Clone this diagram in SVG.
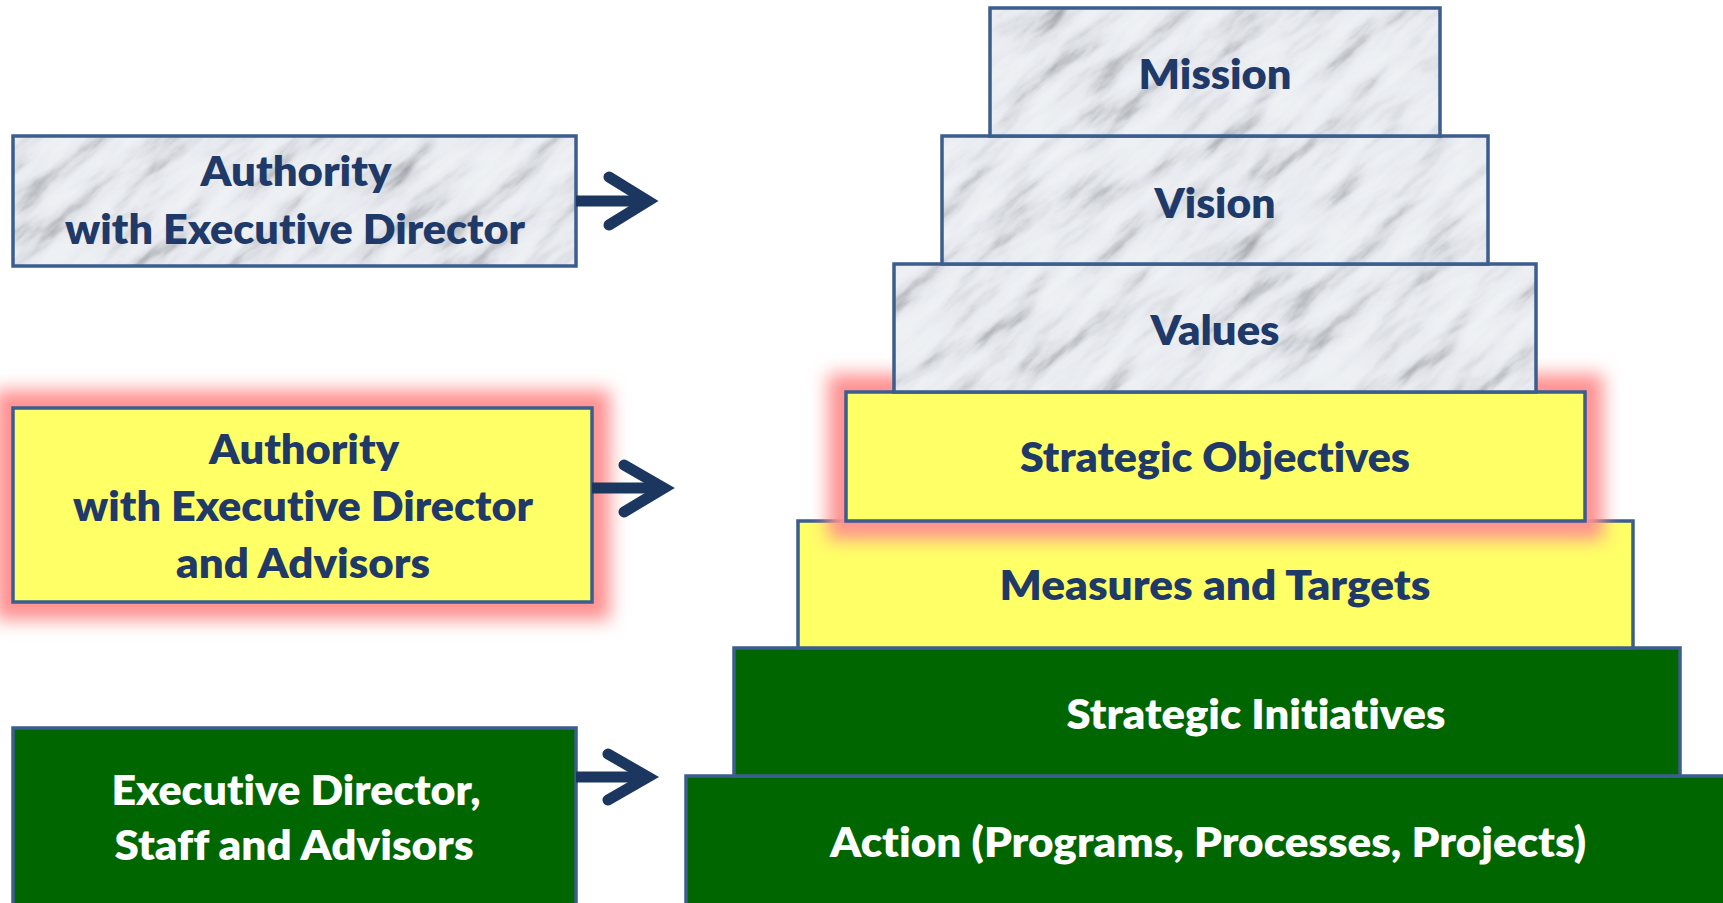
<svg xmlns="http://www.w3.org/2000/svg" width="1723" height="903" viewBox="0 0 1723 903">
<defs>
<filter id="mf" x="0" y="0" width="1" height="1" color-interpolation-filters="sRGB">
<feTurbulence type="fractalNoise" baseFrequency="0.012 0.05" numOctaves="5" seed="11" stitchTiles="stitch"/>
<feColorMatrix type="matrix" values="1 0 0 0 0  1 0 0 0 0  1 0 0 0 0  0 0 0 0 1"/>
<feComponentTransfer>
<feFuncR type="table" tableValues="0.60 0.74 0.86 0.91 0.93 0.94 0.95"/>
<feFuncG type="table" tableValues="0.61 0.75 0.87 0.92 0.94 0.95 0.96"/>
<feFuncB type="table" tableValues="0.63 0.77 0.89 0.94 0.95 0.96 0.97"/>
</feComponentTransfer>
</filter>
<pattern id="marble" patternUnits="userSpaceOnUse" width="300" height="300" patternTransform="rotate(-40)">
<rect width="300" height="300" filter="url(#mf)"/>
</pattern>
<filter id="glow" x="-20%" y="-40%" width="140%" height="180%">
<feGaussianBlur stdDeviation="9"/>
</filter>
</defs>
<style>
.box{stroke:#3B5E8E;stroke-width:3.5}
.m{fill:url(#marble)}
.y{fill:#FFFF66}
.g{fill:#006600}
.gl{fill:#FF9090;stroke:#FF9090;stroke-width:36}
text{font-family:Lato,"Open Sans","Liberation Sans",sans-serif;font-weight:800;font-size:42px;text-anchor:middle;font-variant-ligatures:none;font-feature-settings:"liga" 0}
.dk{fill:#1F3A68}
.wt{fill:#FFFFFF}
.arr{fill:none;stroke:#1B365F;stroke-width:11}
</style>

<g id="node-action">
<rect class="box g" x="686" y="776" width="1050" height="140"/>
<text class="wt" x="1208" y="857" textLength="756" lengthAdjust="spacingAndGlyphs">Action (Programs, Processes, Projects)</text>
</g>
<g id="node-initiatives">
<rect class="box g" x="734" y="648" width="946" height="128"/>
<text class="wt" x="1256" y="729" textLength="379" lengthAdjust="spacingAndGlyphs">Strategic Initiatives</text>
</g>
<g id="node-measures">
<rect class="box y" x="798" y="521" width="835" height="127"/>
<text class="dk" x="1215" y="600" textLength="431" lengthAdjust="spacingAndGlyphs">Measures and Targets</text>
</g>
<g id="node-objectives">
<rect class="gl" x="846" y="392" width="739" height="129" filter="url(#glow)"/>
<rect class="box y" x="846" y="392" width="739" height="129"/>
<text class="dk" x="1215" y="472" textLength="390" lengthAdjust="spacingAndGlyphs">Strategic Objectives</text>
</g>
<g id="node-values">
<rect class="box m" x="894" y="264" width="642" height="128"/>
<text class="dk" x="1215" y="345" textLength="129" lengthAdjust="spacingAndGlyphs">Values</text>
</g>
<g id="node-vision">
<rect class="box m" x="942" y="136" width="546" height="128"/>
<text class="dk" x="1215" y="218" textLength="121" lengthAdjust="spacingAndGlyphs">Vision</text>
</g>
<g id="node-mission">
<rect class="box m" x="990" y="8" width="450" height="128"/>
<text class="dk" x="1215" y="89" textLength="153" lengthAdjust="spacingAndGlyphs">Mission</text>
</g>

<g id="node-authority-ed">
<rect class="box m" x="13" y="136" width="563" height="130"/>
<text class="dk" x="296" y="186" textLength="191" lengthAdjust="spacingAndGlyphs">Authority</text>
<text class="dk" x="295" y="244" textLength="460" lengthAdjust="spacingAndGlyphs">with Executive Director</text>
</g>
<g id="node-authority-ed-advisors">
<rect class="gl" x="13" y="408" width="579" height="194" filter="url(#glow)"/>
<rect class="box y" x="13" y="408" width="579" height="194"/>
<text class="dk" x="304" y="464" textLength="190" lengthAdjust="spacingAndGlyphs">Authority</text>
<text class="dk" x="303" y="521" textLength="460" lengthAdjust="spacingAndGlyphs">with Executive Director</text>
<text class="dk" x="303" y="578" textLength="254" lengthAdjust="spacingAndGlyphs">and Advisors</text>
</g>
<g id="node-staff">
<rect class="box g" x="13" y="728" width="563" height="190"/>
<text class="wt" x="296" y="805" textLength="369" lengthAdjust="spacingAndGlyphs">Executive Director,</text>
<text class="wt" x="294" y="860" textLength="359" lengthAdjust="spacingAndGlyphs">Staff and Advisors</text>
</g>

<g id="connectors">
<path class="arr" d="M576 201 H648"/>
<path class="arr" d="M609 177 L648 201 L609 225" stroke-linecap="round" stroke-linejoin="miter"/>
<path class="arr" d="M592 488 H664"/>
<path class="arr" d="M624 465 L664 488 L624 512" stroke-linecap="round" stroke-linejoin="miter"/>
<path class="arr" d="M576 777 H648"/>
<path class="arr" d="M608 754 L648 777 L608 800" stroke-linecap="round" stroke-linejoin="miter"/>
</g>
</svg>
